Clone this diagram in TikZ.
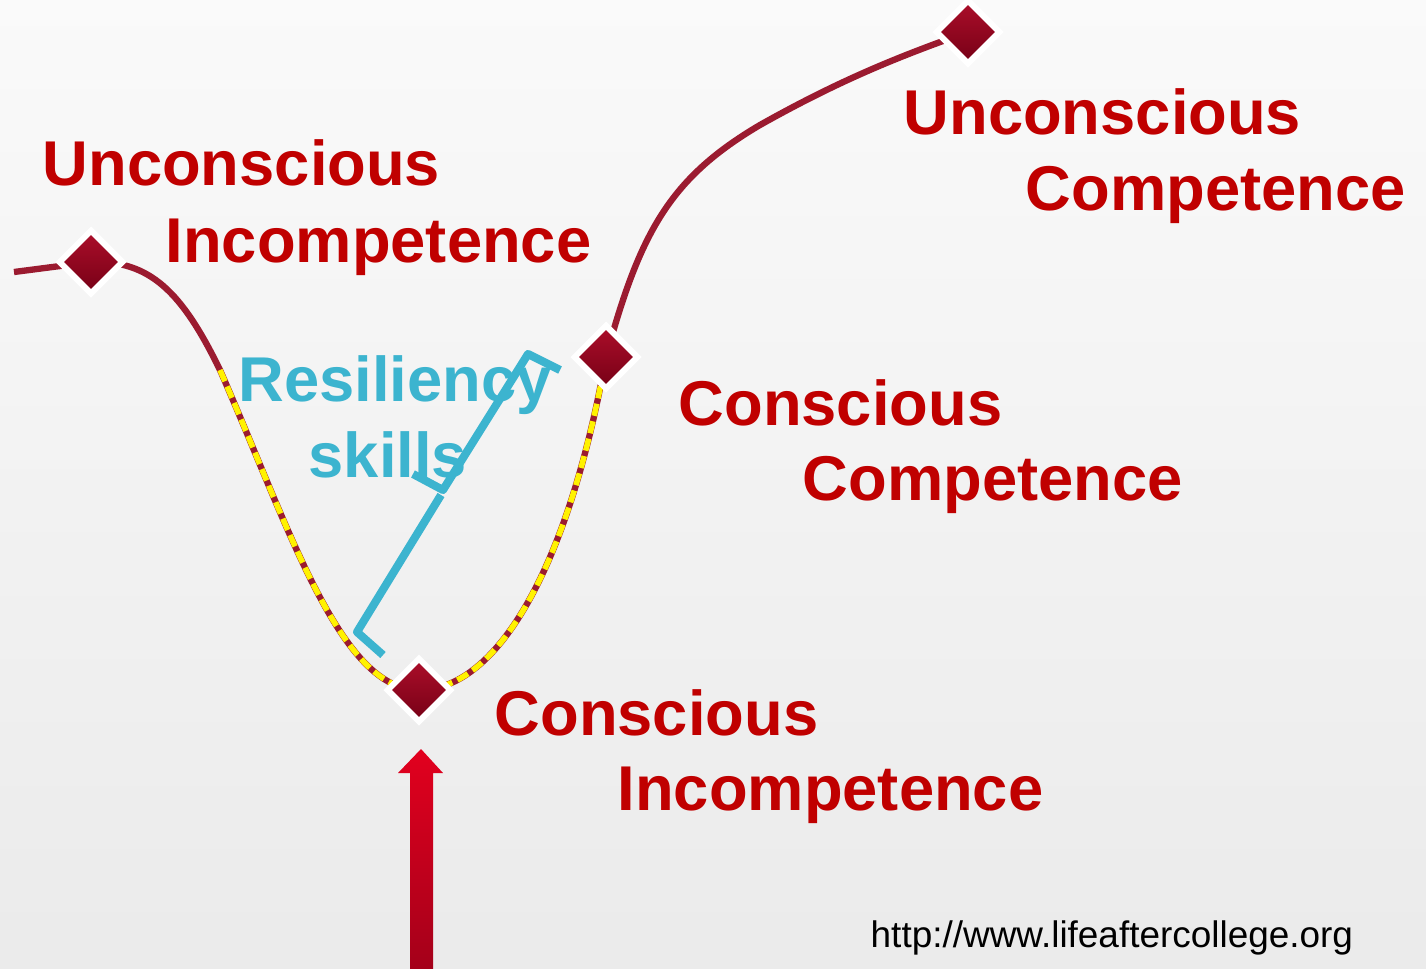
\documentclass[tikz,border=0pt]{standalone}
\usepackage{fontspec}
\setmainfont{Liberation Sans}
\usetikzlibrary{shapes.geometric}
\definecolor{cmred}{RGB}{192,0,0}
\definecolor{cmcurve}{RGB}{155,27,48}
\definecolor{cmblue}{RGB}{60,180,207}
\definecolor{cmgemtop}{RGB}{172,14,42}
\definecolor{cmgembot}{RGB}{118,0,22}
\definecolor{cmarrtop}{RGB}{226,0,30}
\definecolor{cmarrbot}{RGB}{164,0,26}
\pgfdeclarelayer{back}
\pgfdeclarelayer{curve}
\pgfsetlayers{back,curve,main}
\tikzset{
  gem/.style={diamond, draw=white, line width=1.7pt, top color=cmgemtop,
    bottom color=cmgembot, minimum width=0.65cm, minimum height=0.65cm, inner sep=0pt},
  stage/.style={font=\fontsize{18}{20}\selectfont\bfseries, text=cmred,
    anchor=base west, inner sep=0pt},
  skill/.style={stage, text=cmblue},
  curveline/.style={cmcurve, line width=1.8pt},
  dashline/.style={yellow, line width=1.6pt, dash pattern=on 3.5pt off 1.6pt},
  bracket/.style={cmblue, line width=2.3pt, line join=round}
}
\begin{document}
\begin{tikzpicture}[x=0.01cm, y=-0.01cm]
  % Background
  \begin{pgfonlayer}{back}
    \shade[top color=black!2, bottom color=black!8] (0,0) rectangle (1426,969);
  \end{pgfonlayer}
  \useasboundingbox (0,0) rectangle (1426,969);
  % Stage markers
  \node[gem] (d1) at (91,262) {};
  \node[gem] (d3) at (419,690) {};
  \node[gem] (d2) at (606,357) {};
  \node[gem] (d4) at (968,32) {};
  \coordinate (start) at (14,272);
  \coordinate (dipl) at (220,370);
  \coordinate (rise) at (760,125);
  % Learning curve
  \begin{pgfonlayer}{curve}
    \draw[curveline] (start) -- (d1.center)
      .. controls (150,260) and (182,292) .. (dipl)
      .. controls (290,530) and (340,690) .. (d3.center)
      .. controls (500,690) and (570,560) .. (d2.center)
      .. controls (640,232) and (670,178) .. (rise)
      .. controls (840,80) and (900,56) .. (d4.center);
    \draw[dashline] (dipl)
      .. controls (290,530) and (340,690) .. (d3.center)
      .. controls (500,690) and (570,560) .. (d2.center);
  \end{pgfonlayer}
  % Resiliency brackets
  \draw[bracket] (383,655) -- (357,632) -- (441,495);
  \draw[bracket] (413,474) -- (443,490) -- (528,354) -- (560,370);
  % Labels
  \node[stage] (ui1) at (42,185) {Unconscious};
  \node[stage] (ui2) at (165,262) {Incompetence};
  \node[stage] (uc1) at (903,134) {Unconscious};
  \node[stage] (uc2) at (1025,210) {Competence};
  \node[stage] (cc1) at (678,425) {Conscious};
  \node[stage] (cc2) at (802,500) {Competence};
  \node[stage] (ci1) at (494,735) {Conscious};
  \node[stage] (ci2) at (617,810) {Incompetence};
  \node[skill] (rs1) at (238,401) {Resiliency};
  \node[skill] (rs2) at (308,477) {skills};
  \node[font=\fontsize{10.5}{12}\selectfont, anchor=base west, inner sep=0pt] (url)
    at (870,947) {http://www.lifeaftercollege.org};
  % Arrow at bottom
  \shade[top color=cmarrtop, bottom color=cmarrbot]
    (410,969) -- (410,773) -- (398,773) -- (421,749) -- (443,773)
    -- (433,773) -- (433,969) -- cycle;
\end{tikzpicture}
\end{document}
